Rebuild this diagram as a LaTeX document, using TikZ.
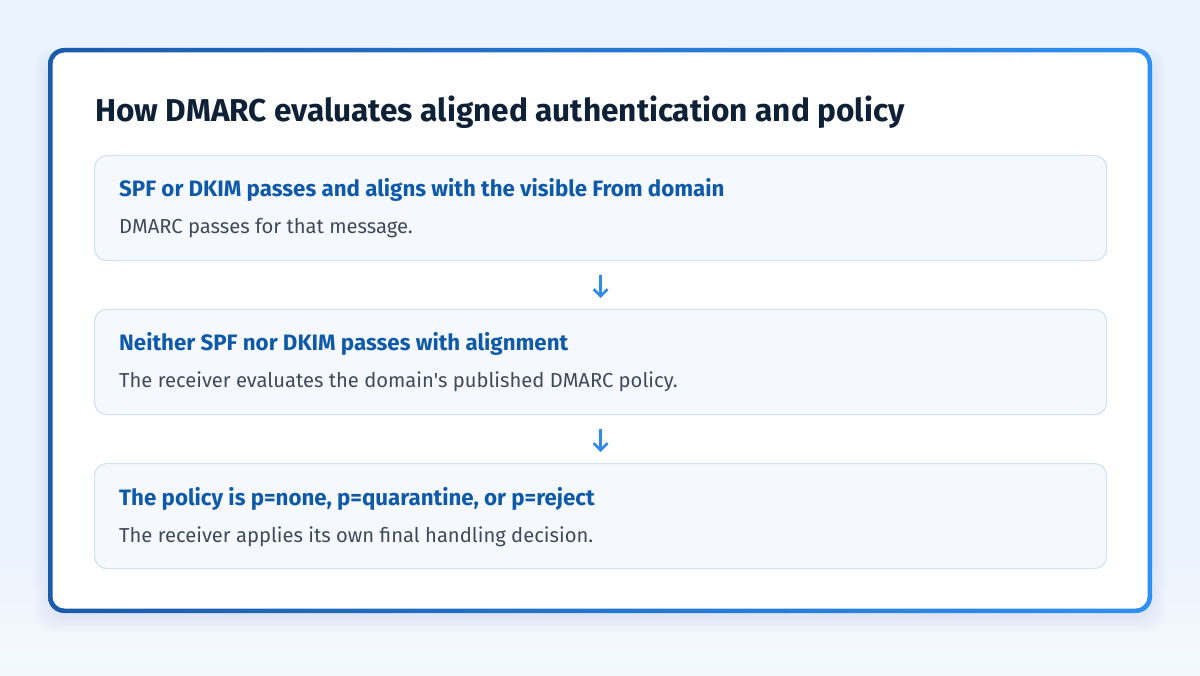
\documentclass[tikz,border=0pt]{standalone}
\usepackage{fontspec}
\setmainfont{Fira Sans}[Ligatures=TeXOff]
\usetikzlibrary{arrows.meta,calc}
\definecolor{bgc}{HTML}{EBF3FC}
\definecolor{framedark}{HTML}{1A5BAA}
\definecolor{framebright}{HTML}{2E90F2}
\definecolor{boxfill}{HTML}{F5F9FD}
\definecolor{boxline}{HTML}{D3E2F1}
\definecolor{titlec}{HTML}{0F2136}
\definecolor{headc}{HTML}{0F5AA8}
\definecolor{bodyc}{HTML}{3E4A5B}
\definecolor{arrowc}{HTML}{2F8BE8}
\tikzset{
  stepbox/.style={draw=boxline, line width=1.2pt, fill=boxfill, rounded corners=12pt,
    minimum width=1012pt, minimum height=105pt, anchor=north west, inner sep=0pt},
  headtxt/.style={anchor=base west, inner sep=0pt, text=headc, font=\fontsize{22.3}{26}\selectfont\bfseries},
  bodytxt/.style={anchor=base west, inner sep=0pt, text=bodyc, font=\fontsize{20.2}{24}\selectfont},
  flow/.style={draw=arrowc, line width=2.6pt, -{Straight Barb[length=7pt,width=14pt,line width=2.6pt]}, shorten <=14pt, shorten >=11pt}
}
\begin{document}
\begin{tikzpicture}[x=1pt,y=-1pt]
\useasboundingbox (0,0) rectangle (1200,676);
\fill[bgc] (0,0) rectangle (1200,676);
\fill[top color=bgc, bottom color=white!50!bgc] (0,560) rectangle (1200,660);
\fill[white!40!bgc] (0,660) rectangle (1200,676);
% soft shadow
\foreach \i in {1,...,8}{
  \fill[framedark, opacity=0.009, rounded corners=20pt] (50-\i*2,50-\i*1+6) rectangle (1150+\i*2,611+\i*2+6);
}
% frame
\shade[left color=framedark, right color=framebright, rounded corners=16pt] (48,48) rectangle (1152,613);
\fill[white, rounded corners=12pt] (52.5,52.5) rectangle (1147.5,608.5);
% title
\node[anchor=base west, inner sep=0pt, text=titlec, font=\fontsize{31.6}{36}\selectfont\bfseries] (title) at (95,122) {How DMARC evaluates aligned authentication and policy};
% boxes
\node[stepbox] (s1) at (94,155) {};
\node[stepbox] (s2) at (94,309) {};
\node[stepbox] (s3) at (94,463) {};
\node[headtxt] (h1) at (119,197) {SPF or DKIM passes and aligns with the visible From domain};
\node[bodytxt] (b1) at (119,234) {DMARC passes for that message.};
\node[headtxt] (h2) at (119,351) {Neither SPF nor DKIM passes with alignment};
\node[bodytxt] (b2) at (119,388) {The receiver evaluates the domain's published DMARC policy.};
\node[headtxt] (h3) at (119,505) {The policy is p=none, p=quarantine, or p=reject};
\node[bodytxt] (b3) at (119,542) {The receiver applies its own final handling decision.};
% arrows
\draw[flow] (s1.south) -- (s2.north);
\draw[flow] (s2.south) -- (s3.north);
\end{tikzpicture}
\end{document}
